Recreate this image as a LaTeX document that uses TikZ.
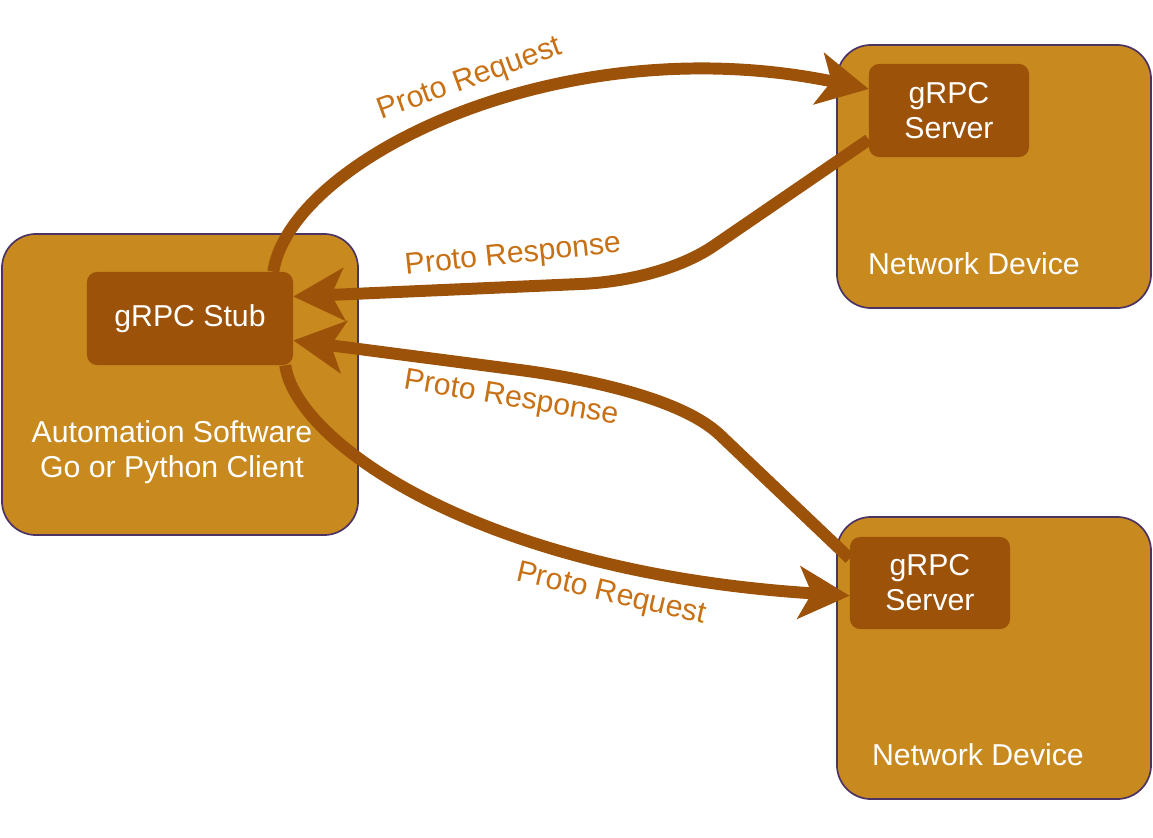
\documentclass[tikz,border=0pt]{standalone}
\usepackage{fontspec}
\setmainfont{Liberation Sans}
\usetikzlibrary{arrows.meta}
\definecolor{boxfill}{RGB}{200,137,30}
\definecolor{boxline}{RGB}{75,51,102}
\definecolor{stubfill}{RGB}{157,82,9}
\definecolor{labtext}{RGB}{200,112,20}
\begin{document}
\begin{tikzpicture}[x=0.025cm,y=-0.025cm,
    every node/.style={font=\fontsize{21.5}{25}\selectfont},
    device/.style={draw=boxline,line width=1.2pt,fill=boxfill,rounded corners=0.85cm},
    grpc/.style={fill=stubfill,rounded corners=0.25cm,text=white,align=center},
    flow/.style={draw=stubfill,line width=8.5pt,-{Stealth[length=36pt,width=37pt,inset=9pt]}},
    msg/.style={text=labtext}]
    \useasboundingbox (0,0) rectangle (1153,837);
    \node[device,minimum width=8.9cm,minimum height=7.525cm] (client) at (180,384.5) {};
    \node[device,minimum width=7.85cm,minimum height=6.575cm] (devA) at (994,176.5) {};
    \node[device,minimum width=7.85cm,minimum height=7.05cm] (devB) at (994,658) {};
    \node[grpc,minimum width=5.15cm,minimum height=2.325cm] (stub) at (190,318.5) {gRPC Stub};
    \node[grpc,minimum width=4cm,minimum height=2.325cm] (serverA) at (949,110.5) {gRPC\\Server};
    \node[grpc,minimum width=4cm,minimum height=2.3cm] (serverB) at (930,583) {gRPC\\Server};
    \node[text=white,align=center] (clientlab) at (172,452) {Automation Software\\Go or Python Client};
    \node[text=white] (devAlab) at (974,264) {Network Device};
    \node[text=white] (devBlab) at (978,755) {Network Device};
    % requests and responses
    \draw[flow] ([xshift=-0.5cm]stub.north east) .. controls (290,160) and (560,25) .. (serverA.165);
    \draw[flow] (serverA.200) -- (715,245) .. controls (682,268) and (630,282) .. (580,284) -- (stub.12);
    \draw[flow] (serverB.163) -- (720,435) .. controls (680,397) and (580,378) .. (520,370) -- (stub.-12);
    \draw[flow] ([xshift=-0.2cm]stub.south east) .. controls (295,440) and (475,572) .. (serverB.189);
    \node[msg,rotate=20] (reqA) at (470,80) {Proto Request};
    \node[msg,rotate=6] (resA) at (513,256) {Proto Response};
    \node[msg,rotate=-9.5] (resB) at (511,399) {Proto Response};
    \node[msg,rotate=-13] (reqB) at (611,595) {Proto Request};
\end{tikzpicture}
\end{document}
